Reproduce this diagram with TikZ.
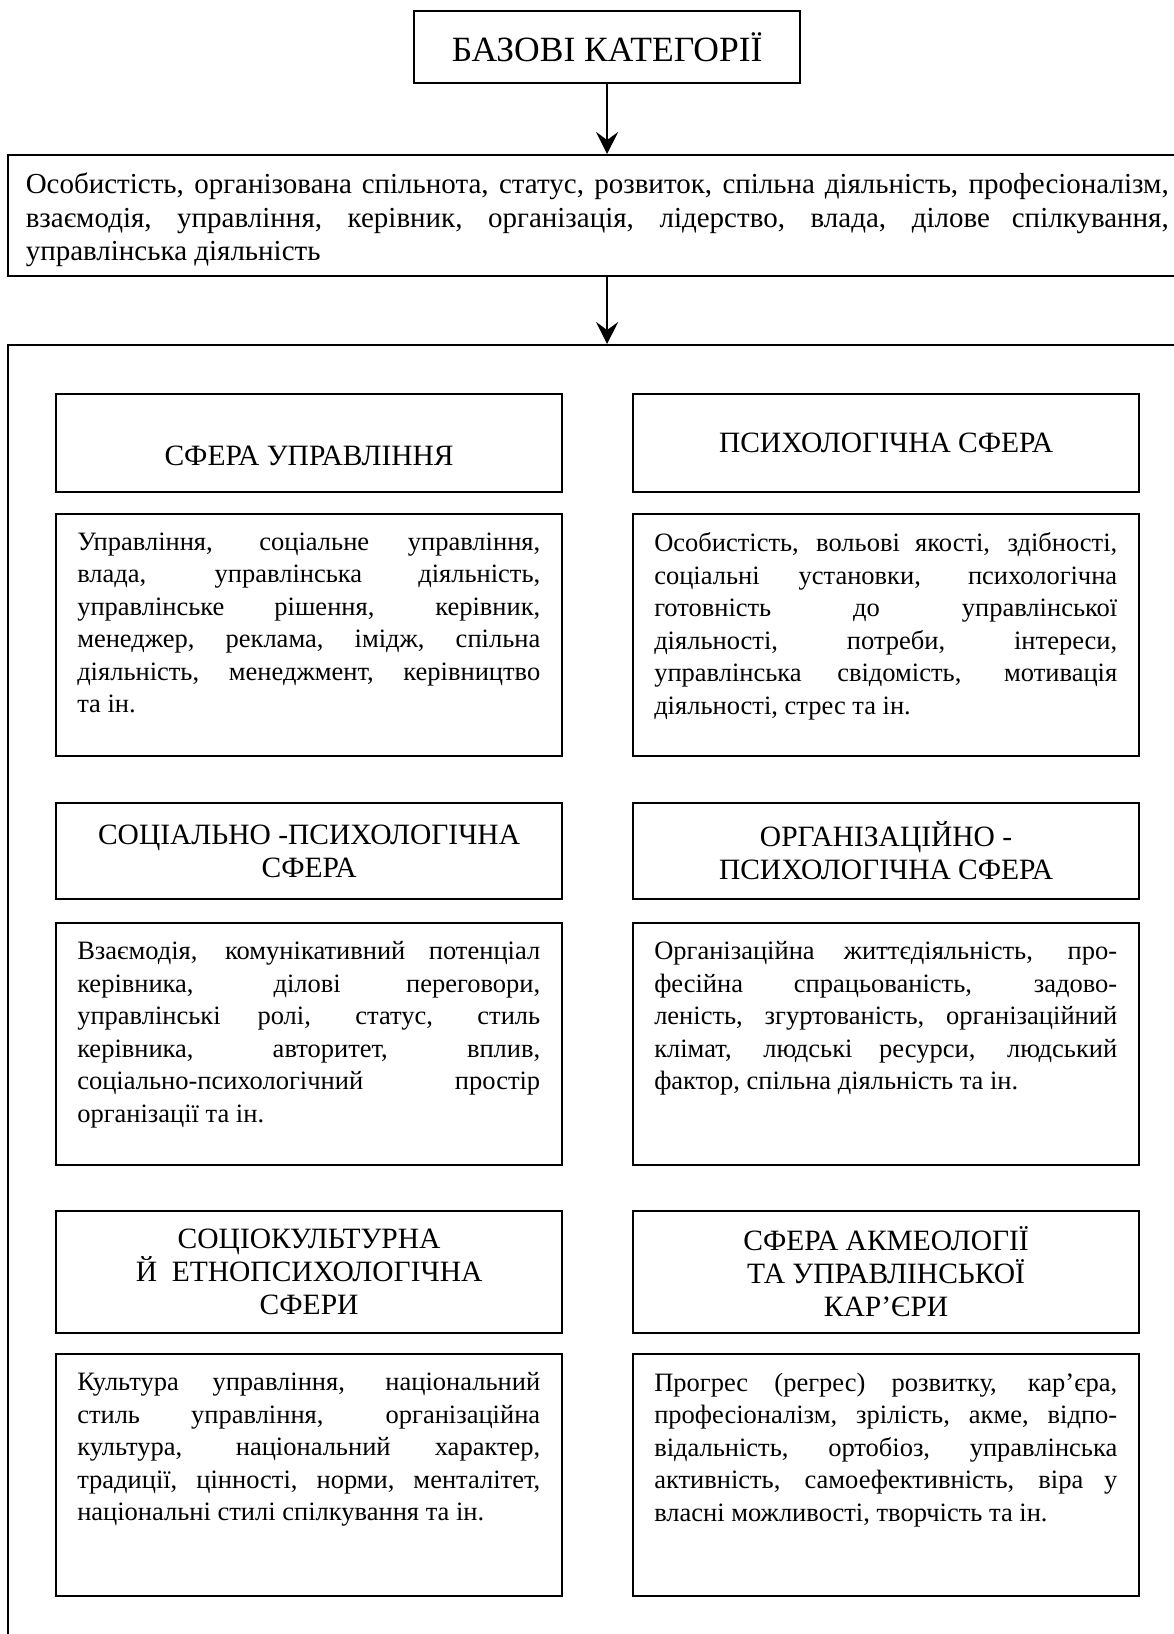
\documentclass[tikz,border=0pt]{standalone}
\usepackage{fontspec}
\setmainfont{Liberation Serif}
\usetikzlibrary{arrows.meta}
\newcommand{\jline}[1]{\makebox[\linewidth][s]{#1}\par}
\newcommand{\desctext}[1]{\parbox[c][242pt][t]{463pt}{\fontsize{26.5}{32.5}\selectfont\vspace*{19pt}#1}}
\tikzset{
  headbox/.style={draw, line width=2.2pt, anchor=north west, inner sep=0pt, align=center,
    minimum width=506pt, font=\fontsize{29.5}{33}\selectfont},
  descbox/.style={draw, line width=1.5pt, anchor=north west, inner sep=0pt,
    minimum width=506pt, minimum height=242pt},
  arr/.style={line width=1.8pt, -{Stealth[length=22pt,width=22pt,inset=8pt]}}
}
\begin{document}
\begin{tikzpicture}[x=1pt,y=-1pt]
\useasboundingbox (0,0) rectangle (1174,1634);
\clip (0,0) rectangle (1174,1634);

\node[draw, line width=2.2pt, anchor=north west, inner sep=0pt, minimum width=386pt,
  minimum height=72pt, font=\fontsize{35.5}{40}\selectfont] (top) at (413,10) {БАЗОВІ КАТЕГОРІЇ};

\node[draw, line width=1.5pt, anchor=north west, inner sep=0pt, minimum width=1179pt,
  minimum height=121pt] (cats) at (7,154)
  {\parbox[c][121pt][t]{1143pt}{\fontsize{29}{33.5}\selectfont\vspace*{18pt}%
   \jline{Особистість, організована спільнота, статус, розвиток, спільна діяльність, професіоналізм,}
   \jline{взаємодія, управління, керівник, організація, лідерство, влада, ділове спілкування,}
   управлінська діяльність}};

\node[draw, line width=1.5pt, anchor=north west, inner sep=0pt, minimum width=1300pt,
  minimum height=1400pt] (outer) at (7,344) {};

\draw[arr] (top.south) -- (top.south |- cats.north);
\draw[arr] (top.south |- cats.south) -- (top.south |- outer.north);

% row 1
\node[headbox, minimum height=98pt] (h1) at (55,393) {\raisebox{-22pt}[0pt][0pt]{СФЕРА УПРАВЛІННЯ}};
\node[headbox, minimum height=98pt] (h2) at (632,393) {ПСИХОЛОГІЧНА СФЕРА};
\node[descbox] (d1) at (55,513) {\desctext{%
  \jline{Управління, соціальне управління,}
  \jline{влада, управлінська діяльність,}
  \jline{управлінське рішення, керівник,}
  \jline{менеджер, реклама, імідж, спільна}
  \jline{діяльність, менеджмент, керівництво}
  та ін.}};
\node[descbox] (d2) at (632,513) {\desctext{%
  \jline{Особистість, вольові якості, здібності,}
  \jline{соціальні установки, психологічна}
  \jline{готовність до управлінської}
  \jline{діяльності, потреби, інтереси,}
  \jline{управлінська свідомість, мотивація}
  діяльності, стрес та ін.}};

% row 2
\node[headbox, minimum height=96pt] (h3) at (55,802) {СОЦІАЛЬНО -ПСИХОЛОГІЧНА\\СФЕРА};
\node[headbox, minimum height=96pt] (h4) at (632,802) {ОРГАНІЗАЦІЙНО -\\ПСИХОЛОГІЧНА СФЕРА};
\node[descbox] (d3) at (55,922) {\desctext{%
  \jline{Взаємодія, комунікативний потенціал}
  \jline{керівника, ділові переговори,}
  \jline{управлінські ролі, статус, стиль}
  \jline{керівника, авторитет, вплив,}
  \jline{соціально-психологічний простір}
  організації та ін.}};
\node[descbox] (d4) at (632,922) {\desctext{%
  \jline{Організаційна життєдіяльність, про-}
  \jline{фесійна спрацьованість, задово-}
  \jline{леність, згуртованість, організаційний}
  \jline{клімат, людські ресурси, людський}
  фактор, спільна діяльність та ін.}};

% row 3
\node[headbox, minimum height=122pt] (h5) at (55,1210) {СОЦІОКУЛЬТУРНА\\Й\ \ ЕТНОПСИХОЛОГІЧНА\\СФЕРИ};
\node[headbox, minimum height=122pt] (h6) at (632,1210) {СФЕРА АКМЕОЛОГІЇ\\ТА УПРАВЛІНСЬКОЇ\\КАР’ЄРИ};
\node[descbox] (d5) at (55,1353) {\desctext{%
  \jline{Культура управління, національний}
  \jline{стиль управління, організаційна}
  \jline{культура, національний характер,}
  \jline{традиції, цінності, норми, менталітет,}
  національні стилі спілкування та ін.}};
\node[descbox] (d6) at (632,1353) {\desctext{%
  \jline{Прогрес (регрес) розвитку, кар’єра,}
  \jline{професіоналізм, зрілість, акме, відпо-}
  \jline{відальність, ортобіоз, управлінська}
  \jline{активність, самоефективність, віра у}
  власні можливості, творчість та ін.}};
\end{tikzpicture}
\end{document}
